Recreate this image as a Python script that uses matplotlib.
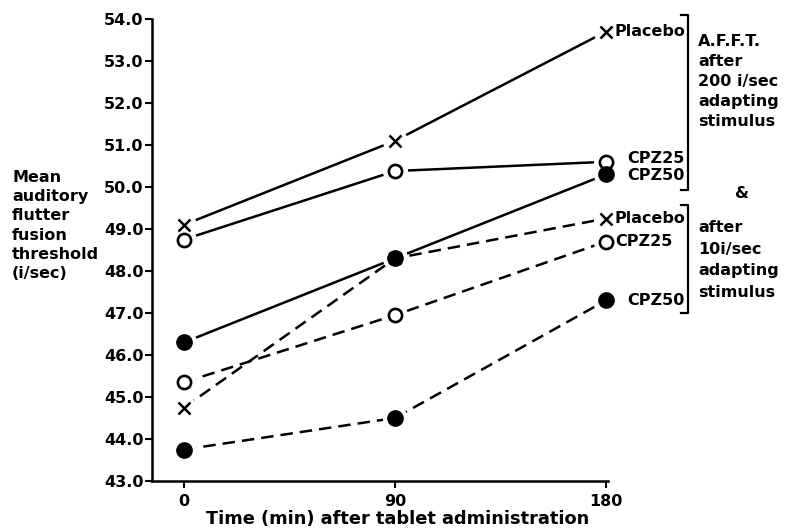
import matplotlib.pyplot as plt
from matplotlib.lines import Line2D

plt.rcParams['font.family'] = ['DejaVu Sans']
plt.rcParams['font.weight'] = 'bold'

# time after tablet (min)
times = [0, 90, 180]
tick_labels = ['0', '90', '180']
y_ticks = [43.0, 44.0, 45.0, 46.0, 47.0, 48.0, 49.0, 50.0, 51.0, 52.0, 53.0, 54.0]

# A.F.F.T. after 200 i/sec adapting stimulus (solid lines)
hi_placebo = [49.1, 51.1, 53.7]
hi_cpz25 = [48.75, 50.38, 50.6]
hi_cpz50 = [46.3, 48.3, 50.3]

# after 10 i/sec adapting stimulus (dashed lines)
lo_placebo = [44.75, 48.3, 49.25]
lo_cpz25 = [45.35, 46.95, 48.7]
lo_cpz50 = [43.75, 44.5, 47.3]

W, H = 789, 530
fig = plt.figure(figsize=(W / 100, H / 100), dpi=100)
ax = fig.add_axes([152 / W, 1 - 481 / H, (608 - 152) / W, (481 - 19) / H])

dash = (0, (5, 2.8))
# values, line style, marker, end label, label offset (x, y) in pixels
series = [
    (hi_placebo, '-', 'x', 'Placebo', (8, 0)),
    (hi_cpz25, '-', 'o', 'CPZ25', (21, 3)),
    (hi_cpz50, '-', 'fo', 'CPZ50', (21, -1)),
    (lo_placebo, dash, 'x', 'Placebo', (8, 0)),
    (lo_cpz25, dash, 'o', 'CPZ25', (9, 0)),
    (lo_cpz50, dash, 'fo', 'CPZ50', (21, 0)),
]

for vals, ls, mk, name, off in series:
    ax.plot(times, vals, color='black', lw=1.8, linestyle=ls, zorder=1, clip_on=False)
    # white halo so the lines stop short of the markers
    ax.plot(times, vals, 'o', ms=17, color='white', mec='white', zorder=2, clip_on=False)
    if mk == 'x':
        ax.plot(times, vals, 'x', ms=8.5, mew=1.8, color='black', zorder=3, clip_on=False)
    elif mk == 'o':
        ax.plot(times, vals, 'o', ms=9.5, mfc='white', mec='black', mew=1.9,
                zorder=3, clip_on=False)
    else:
        ax.plot(times, vals, 'o', ms=11, color='black', zorder=4, clip_on=False)
    ax.annotate(name, (180, vals[-1]), xytext=off, textcoords='offset pixels',
                ha='left', va='center', fontsize=11.5, annotation_clip=False)

ax.set_xlim(-13.65, 180.85)
ax.set_ylim(43, 54)
ax.set_xticks(times)
ax.set_xticklabels(tick_labels)
ax.set_yticks(y_ticks)
ax.set_yticklabels(['%.1f' % v for v in y_ticks])
ax.tick_params(direction='out', length=5, width=1.5, labelsize=11.5)
ax.tick_params(axis='y', pad=1)
ax.tick_params(axis='x', pad=4)
for s in ['top', 'right']:
    ax.spines[s].set_visible(False)
for s in ['left', 'bottom']:
    ax.spines[s].set_linewidth(1.8)

fig.text(398 / W, 1 - 519 / H, 'Time (min) after tablet administration',
         ha='center', va='center', fontsize=12.8)

ylab = ['Mean', 'auditory', 'flutter', 'fusion', 'threshold', '(i/sec)']
for i, t in enumerate(ylab):
    fig.text(12 / W, 1 - (177 + 19.4 * i) / H, t, ha='left', va='center', fontsize=11.5)


# right-hand brackets
def bracket(y0, y1, x=688):
    fig.add_artist(Line2D([(x - 7) / W, x / W, x / W, (x - 7) / W],
                          [1 - y0 / H, 1 - y0 / H, 1 - y1 / H, 1 - y1 / H],
                          color='black', lw=1.6))


bracket(15, 190)
bracket(205, 313)

top_txt = ['A.F.F.T.', 'after', '200 i/sec', 'adapting', 'stimulus']
for i, t in enumerate(top_txt):
    fig.text(698 / W, 1 - (42 + 19.8 * i) / H, t, ha='left', va='center', fontsize=11.5)
fig.text(742 / W, 1 - 193 / H, '&', ha='center', va='center', fontsize=11.5)
low_txt = ['after', '10i/sec', 'adapting', 'stimulus']
for i, t in enumerate(low_txt):
    fig.text(698 / W, 1 - (228 + 21.5 * i) / H, t, ha='left', va='center', fontsize=11.5)

fig.savefig('out.png', dpi=100)
